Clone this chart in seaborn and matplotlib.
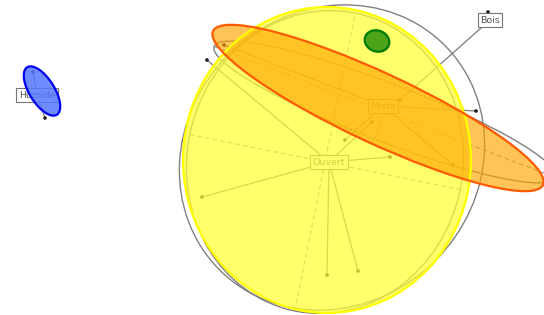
import numpy as np
import pandas as pd
import matplotlib
matplotlib.use("Agg")
import matplotlib.pyplot as plt
from matplotlib.patches import Ellipse
import seaborn as sns

# ---- data (ordination scores, arbitrary units) ----
groups = ["Humide", "Ouvert", "Mixte", "Bois"]
label_x = [-2.35, 0.57, 1.11, 2.18]
label_y = [0.625, -0.045, 0.515, 1.375]

site_group = ["Humide", "Humide",
              "Ouvert", "Ouvert", "Ouvert", "Ouvert", "Ouvert", "Ouvert",
              "Mixte", "Mixte", "Mixte", "Mixte",
              "Bois", "Bois"]
site_x = [-2.39, -2.27,
          -0.70, 0.55, 0.86, 1.18, -0.65, 1.00,
          -0.48, 1.81, 2.04, 0.73,
          2.16, 1.28]
site_y = [0.855, 0.395,
          -0.395, -1.175, -1.135, 0.005, 0.975, 0.355,
          1.125, -0.075, 0.465, 0.175,
          1.455, 0.575]

# coloured confidence ellipses
ell_cx = [-2.30, 0.55, 1.06, 1.05]
ell_cy = [0.665, -0.025, 0.495, 1.165]
ell_w = [0.56, 2.88, 3.64, 0.25]
ell_h = [0.25, 3.06, 0.70, 0.21]
ell_ang = [-58, 0, -25, -20]
ell_face = ["#5577ff", "#ffff33", "#ffa500", "#3a9a10"]
ell_edge = ["#0000ee", "#ffff00", "#ff5a00", "#007a00"]
ell_alpha = [0.85, 0.72, 0.66, 0.9]

# gray (dispersion) ellipses
gray_cx = [0.60, 0.53, 1.13]
gray_cy = [0.0, -0.045, 0.455]
gray_w = [3.18, 2.76, 3.66]
gray_h = [2.92, 3.04, 0.58]
gray_ang = [45, -11.5, -21]
gray_axes = [False, True, True]

# ---- figure ----
sns.set_style("white")
fig = plt.figure(figsize=(5.44, 3.15), dpi=100)
ax = fig.add_axes([0, 0, 1, 1])
ax.set_xlim(-2.72, 2.72)
ax.set_ylim(-1.575, 1.575)
ax.set_aspect("equal")
ax.axis("off")

# gray ellipses with dashed principal axes
for cx, cy, w, h, a, axs in zip(gray_cx, gray_cy, gray_w, gray_h, gray_ang, gray_axes):
    ax.add_patch(Ellipse((cx, cy), w, h, angle=a, fill=False,
                         edgecolor="#808080", lw=1.0, zorder=1))
    if axs:
        t = np.deg2rad(a)
        for half, th in ((w / 2, t), (h / 2, t + np.pi / 2)):
            dx, dy = half * np.cos(th), half * np.sin(th)
            ax.plot([cx - dx, cx + dx], [cy - dy, cy + dy], ls=(0, (4, 3)),
                    color="#8a8a8a", lw=0.8, zorder=1)

# spiders
df = pd.DataFrame({"grp": site_group, "x": site_x, "y": site_y})
cent = dict(zip(groups, zip(label_x, label_y)))
for _, r in df.iterrows():
    cx, cy = cent[r.grp]
    ax.plot([cx, r.x], [cy, r.y], color="#7a7a7a", lw=0.9, zorder=2)

sns.scatterplot(data=df, x="x", y="y", hue="grp",
                palette={g: "#222222" for g in groups},
                s=7, linewidth=0, legend=False, ax=ax, zorder=3)

# labels (under fills)
for g, lx, ly in zip(groups, label_x, label_y):
    ax.text(lx, ly, g, ha="center", va="center", fontsize=6.8, color="#555555",
            zorder=4,
            bbox=dict(boxstyle="square,pad=0.25", fc="white", ec="#777777", lw=0.8))

# coloured ellipses on top
for cx, cy, w, h, a, fc, ec, al in zip(ell_cx, ell_cy, ell_w, ell_h, ell_ang,
                                       ell_face, ell_edge, ell_alpha):
    ax.add_patch(Ellipse((cx, cy), w, h, angle=a, facecolor=fc, alpha=al,
                         edgecolor="none", zorder=5))
    ax.add_patch(Ellipse((cx, cy), w, h, angle=a, fill=False,
                         edgecolor=ec, lw=1.6, zorder=6))

fig.savefig("out.png", dpi=100)
